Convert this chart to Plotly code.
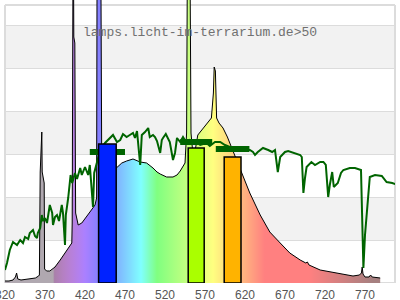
import plotly.graph_objects as go

# ---------------- data ----------------
# lamp spectrum: wavelength (nm) and relative intensity
lamp_nm = [320, 325, 330, 333, 334.5, 336, 340, 350, 358, 362, 363, 364, 366, 366.5, 369, 369.5, 372, 376,
           382.5, 389, 395, 401, 403.5, 404, 404.5, 405.3, 406, 407.3, 408.3, 411.5, 416, 422, 428, 432.5,
           434.5, 435, 437.5, 440, 441, 445, 450, 455, 459.5, 466, 472, 480, 489, 497, 505, 510, 514, 522,
           530, 535, 539, 545, 547, 547.6, 549.5, 551.5, 552.5, 555, 558, 561, 568, 574, 578, 580.5, 581.5,
           583, 584.5, 587.5, 592.5, 598, 602, 607, 615, 626, 639, 651, 664, 676, 689, 696, 698, 700, 714,
           739, 755, 763, 765.5, 766.5, 767.5, 770, 775, 777, 779, 789]
lamp_val = [2, 2, 3, 6, 10, 4, 3, 4, 5, 7, 8, 111, 151, 111, 100, 14, 12, 12,
            16, 23, 30, 36, 40, 60, 246, 400, 246, 240, 70, 58, 60, 66, 73, 78,
            85, 290, 700, 290, 100, 100, 107, 112, 115, 120, 122, 124, 121, 120, 115, 111, 109, 106,
            106, 108, 112, 120, 150, 290, 600, 290, 150, 128, 134, 148, 155, 160, 165, 190, 216,
            212, 165, 160, 155, 146, 138, 127, 110, 90, 68, 51, 40, 30, 23, 20, 21, 18, 13,
            9, 7, 8, 10, 16, 9, 6, 6, 8, 6, 5]

# reference sunlight spectrum
sun_nm = [320, 322.5, 326, 330, 335, 339, 342.5, 345, 349, 351, 355, 357.5, 360, 361, 364, 366, 367.5, 370,
          372.5, 376, 379, 380, 382.5, 385, 387.5, 391, 392.5, 395, 396, 399, 402, 404, 407.5, 410, 414,
          416, 420, 424, 426, 430, 431.5, 435, 439, 445, 451, 455, 460, 464, 467.5, 472, 476, 480, 482.5,
          485, 489, 491, 495, 499, 501, 505, 507.5, 510, 514, 516, 517.5, 521, 526, 530, 532.5, 535, 539,
          542.5, 547, 551, 559, 564, 572, 576, 582.5, 589, 595, 601, 607.5, 614, 620, 626, 630, 632.5,
          636, 642.5, 649, 654, 657.5, 661, 664, 670, 674, 682.5, 689, 691, 693, 695, 697, 703, 707.5,
          714, 718, 721, 724, 726, 729, 731, 736, 740, 743, 751, 757.5, 765, 766.5, 768, 770, 772, 774,
          776, 782.5, 791, 797, 804, 811]
sun_val = [13, 20, 33, 41, 38, 43, 40, 46, 44, 50, 53, 47, 45, 50, 55, 68, 62, 65,
           60, 78, 70, 58, 66, 68, 62, 78, 70, 38, 68, 85, 108, 100, 110, 104, 115,
           108, 116, 108, 118, 76, 110, 121, 133, 140, 145, 148, 141, 143, 149, 146, 148, 150, 145,
           152, 118, 148, 151, 155, 146, 148, 146, 142, 130, 143, 145, 149, 141, 123, 130, 145, 141,
           146, 140, 143, 141, 138, 140, 137, 141, 141, 138, 136, 136, 136, 134, 133, 131, 128,
           131, 135, 133, 131, 133, 111, 126, 131, 132, 130, 128, 126, 90, 105, 116, 121, 118,
           121, 121, 118, 86, 98, 111, 96, 100, 110, 113, 115, 115, 113, 68, 15, 48, 68, 91,
           106, 108, 107, 101, 100, 98]

# photoreceptor bands: lamp share (bars) and sunlight reference (dark green marks)
band_lo = [437, 549, 594]
band_hi = [459, 569, 615]
lamp_band = [139, 135, 126]
sun_band = [131, 141, 134]
band_colors = ["#0022ff", "#aaff00", "#ffb300"]

tick_vals = [320, 370, 420, 470, 520, 570, 620, 670, 720, 770]
title_text = "lamps.licht-im-terrarium.de>50"

# ---------------- style helpers ----------------
X0, X1 = 320, 807.5
YTOP = 283          # top of plot area (value units)
YFRAME = 278        # visible frame top
GRID = 43


def wl_color(w):
    if w < 381:
        return (176, 168, 176)
    if w < 440:
        r, g, b = -(w - 440) / 60, 0.0, 1.0
    elif w < 490:
        r, g, b = 0.0, (w - 440) / 50, 1.0
    elif w < 510:
        r, g, b = 0.0, 1.0, -(w - 510) / 20
    elif w < 580:
        r, g, b = (w - 510) / 70, 1.0, 0.0
    elif w < 645:
        r, g, b = 1.0, -(w - 645) / 65, 0.0
    else:
        r, g, b = 1.0, 0.0, 0.0
    if w < 420:
        f = 0.3 + 0.7 * (w - 380) / 40
    elif w > 700:
        f = 0.3 + 0.7 * (780 - w) / 80
    else:
        f = 1.0
    f = max(f, 0.3)
    return tuple(int(round(255 * (0.5 + 0.5 * c * f))) for c in (r, g, b))


g0, g1 = lamp_nm[0], lamp_nm[-1]
cs = []
w = g0
while w <= g1:
    c = wl_color(w)
    cs.append([(w - g0) / (g1 - g0), "rgb(%d,%d,%d)" % c])
    w += 2
if cs[-1][0] < 1:
    c = wl_color(g1)
    cs.append([1.0, "rgb(%d,%d,%d)" % c])

fig = go.Figure()

# lamp spectrum with wavelength gradient
fig.add_trace(go.Scatter(
    x=lamp_nm, y=lamp_val, mode="lines",
    line=dict(color="black", width=1),
    fill="tozeroy",
    fillgradient=dict(type="horizontal", colorscale=cs, start=g0, stop=g1),
    hoverinfo="skip", showlegend=False))

# sunlight
fig.add_trace(go.Scatter(
    x=sun_nm, y=sun_val, mode="lines",
    line=dict(color="#006400", width=2),
    hoverinfo="skip", showlegend=False))

# sunlight band marks (double width of band)
sx, sy = [], []
for lo, hi, v in zip(band_lo, band_hi, sun_band):
    half = (hi - lo) / 2
    sx += [lo - half, hi + half, None]
    sy += [v, v, None]
fig.add_trace(go.Scatter(x=sx, y=sy, mode="lines",
                         line=dict(color="#006400", width=6),
                         hoverinfo="skip", showlegend=False))

# lamp band bars (as filled scatter so they sit above the spectrum)
for lo, hi, v, col in zip(band_lo, band_hi, lamp_band, band_colors):
    fig.add_trace(go.Scatter(
        x=[lo, lo, hi, hi, lo], y=[0, v, v, 0, 0], mode="lines",
        fill="toself", fillcolor=col,
        line=dict(color="black", width=1.5),
        hoverinfo="skip", showlegend=False))

shapes = []
for k in range(1, 7, 2):
    shapes.append(dict(type="rect", xref="x domain", yref="y", x0=0, x1=1,
                       y0=k * GRID, y1=(k + 1) * GRID, fillcolor="#f2f2f2",
                       line=dict(width=0), layer="below"))
# frame
frame = dict(color="#dcdcdc", width=2)
shapes.append(dict(type="line", xref="x domain", yref="y", x0=0, x1=1, y0=YFRAME, y1=YFRAME, line=frame, layer="below"))
shapes.append(dict(type="line", xref="x domain", yref="y", x0=0, x1=0, y0=0, y1=YFRAME, line=frame, layer="below"))
shapes.append(dict(type="line", xref="x domain", yref="y", x0=1, x1=1, y0=0, y1=YFRAME, line=frame, layer="below"))
shapes.append(dict(type="line", xref="x domain", yref="y", x0=0, x1=1, y0=0, y1=0, line=frame, layer="below"))

fig.update_layout(
    width=400, height=300,
    margin=dict(l=5, r=5, t=0, b=17),
    paper_bgcolor="white", plot_bgcolor="white",
    shapes=shapes,
    xaxis=dict(range=[X0, X1], tickvals=tick_vals, ticktext=[str(t) for t in tick_vals],
               showgrid=False, zeroline=False, showline=False, ticks="",
               automargin=False,
               ticklabeloverflow="allow", ticklabelstandoff=3,
               tickfont=dict(family="Liberation Sans, Arial", size=12, color="#555555")),
    yaxis=dict(range=[0, YTOP], tick0=0, dtick=GRID, showgrid=True, gridcolor="#dcdcdc",
               gridwidth=1, zeroline=False, showticklabels=False, showline=False, ticks="",
               automargin=False),
    annotations=[dict(text=title_text, x=0.5, xref="paper", y=251, yref="y",
                      showarrow=False, xanchor="center", yanchor="middle",
                      font=dict(family="Liberation Mono, DejaVu Sans Mono, monospace", size=13,
                                color="#707070"))],
)

fig.write_html("out.html")
